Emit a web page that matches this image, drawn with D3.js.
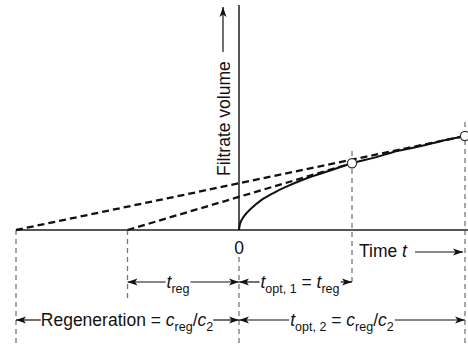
<!DOCTYPE html>
<html>
<head>
<meta charset="utf-8">
<script src="https://cdn.jsdelivr.net/npm/d3@7"></script>
<style>
  html, body { margin: 0; padding: 0; background: #fff; }
  svg { display: block; font-family: "Liberation Sans", Arial, sans-serif; }
</style>
</head>
<body>
<svg id="chart" width="468" height="351"></svg>
<script>
// Filtrate volume vs. time (cake filtration), times in units of the longest cycle
const timeMarks = [-1, -0.5, 0, 0.5, 1];          // regeneration start, t_reg start, 0, t_opt,1, t_opt,2
const curveT = [0, 0.005, 0.02, 0.05, 0.1, 0.15, 0.2, 0.3, 0.4, 0.5, 0.6, 0.7, 0.8, 0.9, 1.0];
const curveV = [0, 0.07, 0.14, 0.22, 0.32, 0.39, 0.45, 0.55, 0.63, 0.71, 0.77, 0.84, 0.89, 0.95, 1.0];
const optT = [0.5, 1.0];                          // optimum points on the curve
const optV = [0.71, 1.0];
const tangentStart = [-0.5, -1];                  // where each tangent meets the time axis
const zeroLabel = "0";

const svg = d3.select("#chart");
const x = d3.scaleLinear().domain([-1, 0, 1]).range([16, 239, 465]);
const y = d3.scaleLinear().domain([0, 1]).range([230, 136]);

const defs = svg.append("defs");
defs.append("marker")
  .attr("id", "arr").attr("viewBox", "0 0 10 10")
  .attr("refX", 10).attr("refY", 5)
  .attr("markerWidth", 10).attr("markerHeight", 10)
  .attr("markerUnits", "userSpaceOnUse")
  .attr("orient", "auto-start-reverse")
  .append("path").attr("d", "M0,1.5 L10,5 L0,8.5 L2.5,5 Z").attr("fill", "#111");

const axisColor = "#555";
const guideColor = "#777";
const fs = 17.5, subFs = 12.5;

// vertical guide lines (dashed, gray)
const guides = [
  { t: -1, y1: 230, y2: 346 },
  { t: -0.5, y1: 230, y2: 300 },
  { t: 0, y1: 257, y2: 346 },
  { t: 0.5, y1: 151, y2: 286 },
  { t: 1, y1: 122, y2: 346 }
];
svg.append("g").selectAll("line").data(guides).join("line")
  .attr("x1", d => x(d.t)).attr("x2", d => x(d.t))
  .attr("y1", d => d.y1).attr("y2", d => d.y2)
  .attr("stroke", guideColor).attr("stroke-width", 1.3)
  .attr("stroke-dasharray", "5,4");

// axes
svg.append("line").attr("x1", x(-1)).attr("x2", 468).attr("y1", y(0)).attr("y2", y(0))
  .attr("stroke", axisColor).attr("stroke-width", 2);
svg.append("line").attr("x1", x(0)).attr("x2", x(0)).attr("y1", 5).attr("y2", y(0))
  .attr("stroke", axisColor).attr("stroke-width", 2);

// tangent lines (dashed)
svg.append("g").selectAll("line").data(tangentStart).join("line")
  .attr("x1", d => x(d)).attr("y1", y(0))
  .attr("x2", (d, i) => x(optT[i])).attr("y2", (d, i) => y(optV[i]))
  .attr("stroke", "#111").attr("stroke-width", 2.3)
  .attr("stroke-dasharray", "7,4");

// filtrate curve
const pts = curveT.map((t, i) => [t, curveV[i]]);
svg.append("path").datum(pts)
  .attr("d", d3.line().x(d => x(d[0])).y(d => y(d[1])).curve(d3.curveCatmullRom.alpha(0.5)))
  .attr("fill", "none").attr("stroke", "#111").attr("stroke-width", 2);

// optimum points
svg.append("g").selectAll("circle").data(optT).join("circle")
  .attr("cx", d => x(d)).attr("cy", (d, i) => y(optV[i])).attr("r", 4.6)
  .attr("fill", "#fff").attr("stroke", "#333").attr("stroke-width", 1.3);

// axis labels
svg.append("text").attr("x", x(0)).attr("y", 254).attr("text-anchor", "middle")
  .attr("font-size", fs).attr("fill", "#111").text(zeroLabel);

const timeLbl = svg.append("text").attr("x", 359).attr("y", 257)
  .attr("font-size", fs).attr("fill", "#111");
timeLbl.append("tspan").text("Time ");
timeLbl.append("tspan").attr("font-style", "italic").text("t");
svg.append("line").attr("x1", 415).attr("x2", 463).attr("y1", 252).attr("y2", 252)
  .attr("stroke", "#111").attr("stroke-width", 1.2).attr("marker-end", "url(#arr)");

svg.append("text").attr("transform", "translate(230,176) rotate(-90)")
  .attr("font-size", fs).attr("fill", "#111").text("Filtrate volume");
svg.append("line").attr("x1", 223).attr("x2", 223).attr("y1", 52).attr("y2", 7)
  .attr("stroke", "#111").attr("stroke-width", 1.2).attr("marker-end", "url(#arr)");

// dimension arrows with labels
function addParts(textSel, parts) {
  parts.forEach(p => {
    const ts = textSel.append("tspan").text(p.s);
    if (p.i) ts.attr("font-style", "italic");
    if (p.sub) ts.attr("font-size", subFs).attr("dy", 5);
    if (p.up) ts.attr("dy", -5);
  });
}
function dimension(t0, t1, yy, parts, cx, gap) {
  const tx = svg.append("text").attr("x", cx).attr("y", yy + 6)
    .attr("text-anchor", "middle").attr("font-size", fs).attr("fill", "#111");
  addParts(tx, parts);
  const bb = tx.node().getBBox();
  const g = gap == null ? 1 : gap;
  svg.append("line").attr("x1", bb.x - g).attr("x2", x(t0)).attr("y1", yy).attr("y2", yy)
    .attr("stroke", "#111").attr("stroke-width", 1.2).attr("marker-end", "url(#arr)");
  svg.append("line").attr("x1", bb.x + bb.width + g).attr("x2", x(t1)).attr("y1", yy).attr("y2", yy)
    .attr("stroke", "#111").attr("stroke-width", 1.2).attr("marker-end", "url(#arr)");
}

dimension(-0.5, 0, 282, [{ s: "t", i: true }, { s: "reg", sub: true }], 178);
dimension(0, 0.5, 282, [
  { s: "t", i: true }, { s: "opt, 1", sub: true }, { s: " = ", up: true },
  { s: "t", i: true }, { s: "reg", sub: true }
], 300);
dimension(-1, 0, 320, [
  { s: "Regeneration = " }, { s: "c", i: true }, { s: "reg", sub: true },
  { s: "/", up: true }, { s: "c", i: true }, { s: "2", sub: true }
], 127, 0);
dimension(0, 1, 320, [
  { s: "t", i: true }, { s: "opt, 2", sub: true }, { s: " = ", up: true },
  { s: "c", i: true }, { s: "reg", sub: true }, { s: "/", up: true },
  { s: "c", i: true }, { s: "2", sub: true }
], 342);
</script>
</body>
</html>
